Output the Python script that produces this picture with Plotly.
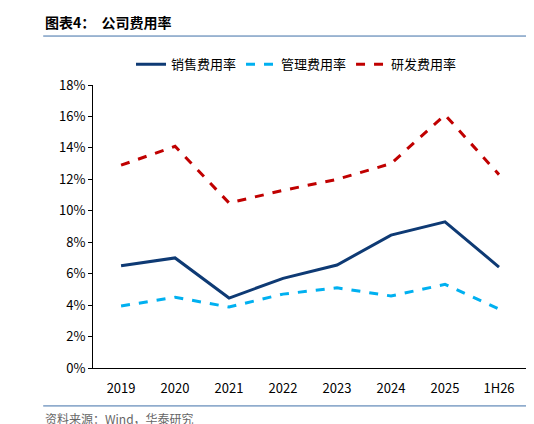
import plotly.graph_objects as go

years = ["2019", "2020", "2021", "2022", "2023", "2024", "2025", "1H26"]
sales = [6.5, 7.0, 4.45, 5.7, 6.55, 8.45, 9.3, 6.42]
admin = [3.94, 4.5, 3.88, 4.7, 5.1, 4.58, 5.32, 3.75]
rnd = [12.9, 14.1, 10.5, 11.3, 12.0, 13.0, 16.1, 12.3]

fig = go.Figure()
fig.add_trace(go.Scatter(x=years, y=sales, mode="lines", name="销售费用率",
                         line=dict(color="#0e3a74", width=3)))
fig.add_trace(go.Scatter(x=years, y=admin, mode="lines", name="管理费用率",
                         line=dict(color="#00b0f0", width=3, dash="dash")))
fig.add_trace(go.Scatter(x=years, y=rnd, mode="lines", name="研发费用率",
                         line=dict(color="#c00000", width=3, dash="dash")))

fig.update_layout(
    width=534, height=424,
    margin=dict(l=85, r=16, t=77, b=64),
    plot_bgcolor="white", paper_bgcolor="white",
    font=dict(family="Noto Sans CJK SC, Arial", size=13, color="black"),
    legend=dict(orientation="h", x=0.47, xanchor="center", y=1.02, yanchor="bottom",
                font=dict(size=13)),
    xaxis=dict(range=[-0.52, 7.5], showline=True, linecolor="black", ticks="",
               showgrid=False, ticklabelstandoff=8),
    yaxis=dict(range=[0, 18], dtick=2, ticksuffix="%", showline=True, linecolor="black",
               ticks="outside", ticklen=4, tickcolor="black", showgrid=False),
)

fig.add_annotation(text="<b>图表4：  公司费用率</b>", xref="paper", yref="paper",
                   x=-0.115, y=1.223, xanchor="left", yanchor="middle", showarrow=False,
                   font=dict(size=14, color="black"))
fig.add_shape(type="line", xref="paper", yref="paper", x0=-0.115, x1=1.023, y0=1.173, y1=1.173,
              line=dict(color="#3f6fa8", width=1))
fig.add_shape(type="line", xref="paper", yref="paper", x0=-0.115, x1=1.023, y0=-0.134, y1=-0.134,
              line=dict(color="#3f6fa8", width=1))
fig.add_annotation(text="资料来源：Wind，华泰研究", xref="paper", yref="paper",
                   x=-0.115, y=-0.177, xanchor="left", yanchor="middle", showarrow=False,
                   font=dict(size=12, color="#666666"))

fig.write_html("out.html")
